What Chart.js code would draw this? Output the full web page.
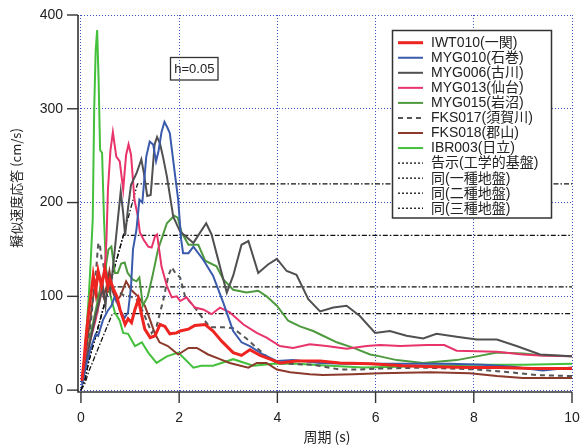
<!DOCTYPE html>
<html><head><meta charset="utf-8">
<script src="https://cdn.jsdelivr.net/npm/chart.js@4"></script>
<style>html,body{margin:0;padding:0;background:#fff}#wrap{width:580px;height:445px}</style>
</head><body><div id="wrap"><canvas id="c" width="580" height="445"></canvas></div>
<script>
// ---- tick labels ----
const xTicks = [0, 2, 4, 6, 8, 10];
const yTicks = [0, 100, 200, 300, 400];

// ---- series (period s, pseudo velocity cm/s) ----
const IWT010_T = [0.02,0.06,0.1,0.15,0.2,0.25,0.3,0.35,0.42,0.49,0.55,0.59,0.66,0.73,0.8,0.9,0.96,1.03,1.1,1.17,1.24,1.3,1.41,1.51,1.61,1.71,1.81,1.95,2.02,2.19,2.32,2.53,2.69,2.87,3.1,3.27,3.44,3.65,3.85,4.05,4.39,4.87,5.27,5.89,6.56,7.2,7.92,8.5,9.2,10];
const IWT010_V = [10,30,55,80,100,122,105,127,111,129,110,118,108,100,85,70,76,72,86,97,79,65,56,58,70,68,60,61,63,65,69,70,63,52,40,37,43,37,33,29,31,31,29,28,26,25,24,24,23,23];

const MYG010_T = [0.02,0.1,0.2,0.3,0.35,0.45,0.55,0.62,0.69,0.79,0.89,0.96,1.02,1.06,1.13,1.19,1.25,1.33,1.4,1.47,1.53,1.58,1.64,1.7,1.76,1.81,1.91,1.98,2.04,2.08,2.19,2.29,2.49,2.69,2.9,3.1,3.27,3.44,3.71,3.99,4.32,4.87,5.41,6.09,6.8,7.5,8.2,8.8,9.4,10];
const MYG010_V = [5,25,45,60,58,75,85,90,100,86,77,83,111,150,171,203,200,249,265,262,244,255,275,286,280,274,232,203,161,146,146,153,139,122,93,63,51,47,38,31,32,29,28,28,28,28,27,25,21,24];

const MYG006_T = [0.02,0.1,0.2,0.3,0.4,0.45,0.5,0.55,0.6,0.65,0.69,0.73,0.81,0.86,0.9,0.96,1.02,1.13,1.23,1.28,1.35,1.42,1.5,1.55,1.61,1.67,1.75,1.88,2.02,2.29,2.55,2.66,2.97,3.1,3.27,3.41,3.61,3.81,3.99,4.19,4.39,4.63,4.87,5.14,5.41,5.68,5.99,6.29,6.63,6.97,7.24,7.65,8.06,8.47,8.87,9.35,10];
const MYG006_V = [8,30,55,80,100,110,90,120,105,130,150,171,212,189,165,195,219,231,246,232,207,208,262,270,263,249,228,185,169,157,178,166,104,122,155,159,125,134,140,127,123,97,84,88,90,79,61,63,58,55,60,57,54,54,47,38,36];

const MYG013_T = [0.02,0.1,0.2,0.3,0.4,0.45,0.5,0.52,0.55,0.6,0.65,0.72,0.79,0.86,0.92,0.97,1.02,1.09,1.16,1.2,1.28,1.37,1.44,1.51,1.55,1.64,1.75,1.85,1.95,2.02,2.15,2.32,2.49,2.66,2.83,3.03,3.31,3.58,3.78,4.05,4.32,4.66,5.0,5.41,5.82,6.09,6.5,7.04,7.4,7.65,8.47,9.0,9.35,10];
const MYG013_V = [10,35,55,75,100,120,140,161,214,255,275,249,244,214,251,262,251,203,185,168,160,153,152,164,166,132,111,99,100,95,99,88,86,81,88,83,70,61,56,47,45,49,47,44,47,48,47,48,48,42,41,38,37,36];

const MYG015_T = [0.02,0.1,0.2,0.3,0.4,0.5,0.56,0.62,0.69,0.75,0.82,0.89,0.95,1.05,1.13,1.19,1.26,1.36,1.45,1.57,1.66,1.75,1.9,1.97,2.05,2.19,2.39,2.53,2.76,2.9,3.1,3.37,3.61,3.78,3.99,4.22,4.46,4.73,4.93,5.21,5.55,5.89,6.09,6.43,6.97,7.65,8.06,8.47,9.0,9.42,10];
const MYG015_V = [8,30,60,85,110,130,150,153,125,125,135,136,125,118,116,120,90,100,120,150,164,178,186,184,168,155,155,138,132,118,107,104,106,100,90,74,68,63,58,51,45,38,36,32,29,32,36,40,39,37,36];

const FKS017_T = [0.02,0.1,0.2,0.25,0.31,0.35,0.38,0.42,0.45,0.5,0.55,0.62,0.7,0.79,0.9,1.0,1.13,1.25,1.34,1.44,1.54,1.68,1.78,1.85,1.92,2.02,2.12,2.29,2.49,2.63,2.9,3.1,3.37,3.58,3.78,3.99,4.26,4.73,5.27,5.68,6.09,7.0,8.06,8.74,9.28,10];
const FKS017_V = [8,35,70,100,129,155,157,140,136,120,110,111,100,104,100,100,97,85,74,61,68,97,122,131,125,120,100,90,76,67,67,66,55,45,36,29,28,27,22,22,23,24,22,19,16,15];

const FKS018_T = [0.02,0.1,0.15,0.2,0.25,0.3,0.35,0.41,0.46,0.52,0.58,0.65,0.72,0.8,0.92,1.02,1.16,1.3,1.4,1.5,1.6,1.77,1.98,2.1,2.19,2.36,2.59,2.83,3.03,3.41,3.58,3.78,3.99,4.26,4.66,4.93,5.55,6.09,7.11,7.92,8.47,9.0,10];
const FKS018_V = [8,40,60,80,100,112,90,116,100,110,127,105,95,100,116,107,100,90,76,61,51,47,38,42,45,45,38,33,29,24,29,29,22,19,17,16,17,18,19,18,15,13,13];

const IBR003_T = [0.02,0.08,0.12,0.16,0.2,0.24,0.27,0.3,0.33,0.36,0.39,0.43,0.47,0.52,0.62,0.69,0.79,0.86,0.96,1.1,1.24,1.37,1.54,1.75,1.98,2.12,2.29,2.45,2.69,3.1,3.51,3.92,4.39,5.07,5.75,6.5,7.0,8.0,9.0,10];
const IBR003_V = [8,40,70,100,139,182,300,362,384,330,256,253,182,118,97,83,74,61,60,47,51,40,29,36,40,33,24,26,26,33,26,28,28,26,24,25,26,27,27,28];

// code spectra (告示)
const KOKUJI_T = [0, 0.08, 0.16, 0.64, 10];
const KOKUJI_V = [0, 7, 20, 81.5, 81.5];
const TYPE1_T = [0, 0.08, 0.16, 0.576, 10];
const TYPE1_V = [0, 11, 31, 110, 110];
const TYPE2_T = [0, 0.08, 0.16, 0.864, 10];
const TYPE2_V = [0, 11, 31, 165, 165];
const TYPE3_T = [0, 0.08, 0.16, 1.152, 10];
const TYPE3_V = [0, 11, 31, 220, 220];

const seriesLabels = ['IWT010(一関)','MYG010(石巻)','MYG006(古川)','MYG013(仙台)','MYG015(岩沼)','FKS017(須賀川)','FKS018(郡山)','IBR003(日立)','告示(工学的基盤)','同(一種地盤)','同(二種地盤)','同(三種地盤)'];

function pts(T, V) { return T.map((t, i) => ({ x: t, y: V[i] })); }
const DASHDOT = [5, 2, 1.5, 2];
function ds(label, T, V, color, width, dash, legendDash) {
  return { label, data: pts(T, V), borderColor: color, backgroundColor: color, borderWidth: width,
    borderDash: dash || [], legendDash: legendDash || dash || [], pointRadius: 0, tension: 0, fill: false };
}
const datasets = [
  ds(seriesLabels[0], IWT010_T, IWT010_V, '#ee2420', 3),
  ds(seriesLabels[1], MYG010_T, MYG010_V, '#3a5aac', 2),
  ds(seriesLabels[2], MYG006_T, MYG006_V, '#505050', 2),
  ds(seriesLabels[3], MYG013_T, MYG013_V, '#e8336b', 2),
  ds(seriesLabels[4], MYG015_T, MYG015_V, '#4e9a3e', 2),
  ds(seriesLabels[5], FKS017_T, FKS017_V, '#555555', 2, [5, 4]),
  ds(seriesLabels[6], FKS018_T, FKS018_V, '#8b3a2c', 2),
  ds(seriesLabels[7], IBR003_T, IBR003_V, '#44c03c', 2),
  ds(seriesLabels[8], KOKUJI_T, KOKUJI_V, '#111111', 1.3, DASHDOT, [2, 2]),
  ds(seriesLabels[9], TYPE1_T, TYPE1_V, '#111111', 1.3, DASHDOT, [2, 2]),
  ds(seriesLabels[10], TYPE2_T, TYPE2_V, '#111111', 1.3, DASHDOT, [2, 2]),
  ds(seriesLabels[11], TYPE3_T, TYPE3_V, '#111111', 1.3, DASHDOT, [2, 2])
];

const GRID = '#3b4fc6';
const TICKFONT = { family: '"Liberation Sans", Arial, sans-serif', size: 14 };

const decor = {
  id: 'decor',
  beforeDatasetsDraw(chart) {
    const { ctx, chartArea: a, scales } = chart;
    ctx.save();
    ctx.strokeStyle = '#333'; ctx.lineWidth = 1.6; ctx.setLineDash([]);
    ctx.beginPath();
    ctx.moveTo(a.left, a.top); ctx.lineTo(a.left, a.bottom); ctx.lineTo(a.right, a.bottom);
    ctx.stroke();
    ctx.lineWidth = 1.4;
    yTicks.forEach(v => { const y = scales.y.getPixelForValue(v); ctx.beginPath(); ctx.moveTo(a.left - 11, y); ctx.lineTo(a.left, y); ctx.stroke(); });
    xTicks.forEach(v => { const x = scales.x.getPixelForValue(v); ctx.beginPath(); ctx.moveTo(x, a.bottom); ctx.lineTo(x, a.bottom + 11); ctx.stroke(); });
    ctx.restore();
  },
  afterDatasetsDraw(chart) {
    const { ctx } = chart;
    ctx.save();
    // h=0.05 box
    ctx.setLineDash([]);
    ctx.strokeStyle = '#333'; ctx.lineWidth = 1.3;
    ctx.strokeRect(170.5, 57.5, 47.5, 22.5);
    ctx.fillStyle = '#222'; ctx.font = '13px "Liberation Sans", Arial, sans-serif';
    ctx.textAlign = 'center'; ctx.textBaseline = 'middle';
    ctx.fillText('h=0.05', 194.3, 69);
    // legend
    ctx.fillStyle = '#fff'; ctx.fillRect(392.5, 30.5, 159, 187.5);
    ctx.strokeStyle = '#333'; ctx.lineWidth = 1.5; ctx.strokeRect(392.5, 30.5, 159, 187.5);
    ctx.textAlign = 'left';
    ctx.font = '14px "Liberation Sans", "Noto Sans CJK JP", sans-serif';
    chart.data.datasets.forEach((d, i) => {
      const y = 42.7 + 15.05 * i;
      ctx.strokeStyle = d.borderColor; ctx.lineWidth = d.borderWidth > 2 ? 3 : (d.borderWidth < 1.5 ? 1.3 : 2);
      ctx.setLineDash(d.legendDash || []);
      ctx.beginPath(); ctx.moveTo(398, y); ctx.lineTo(423, y); ctx.stroke();
      ctx.fillStyle = '#222';
      ctx.fillText(d.label, 431, y + 0.5);
    });
    ctx.setLineDash([]);
    // axis titles
    ctx.fillStyle = '#222';
    ctx.font = '13px "Noto Sans CJK JP", sans-serif';
    ctx.save(); ctx.translate(16, 188); ctx.rotate(-Math.PI / 2);
    ctx.textAlign = 'center'; ctx.textBaseline = 'middle';
    ctx.fillText('擬似速度応答 (cm/s)', 0, 0);
    ctx.restore();
    ctx.font = '14px "Noto Sans CJK JP", sans-serif';
    ctx.textAlign = 'center'; ctx.textBaseline = 'middle';
    ctx.fillText('周期 (s)', 327, 437);
    ctx.restore();
  }
};

function noPad(s) { s.paddingTop = 0; s.paddingBottom = 0; s.paddingLeft = 0; s.paddingRight = 0; }

new Chart(document.getElementById('c'), {
  type: 'line',
  data: { datasets },
  plugins: [decor],
  options: {
    responsive: false, animation: false, devicePixelRatio: 1,
    layout: { padding: { left: 0, right: 8, top: 15, bottom: 0 } },
    plugins: { legend: { display: false }, tooltip: { enabled: false }, title: { display: false } },
    scales: {
      x: {
        type: 'linear', min: -0.06, max: 10,
        afterBuildTicks: s => { s.ticks = xTicks.map(v => ({ value: v })); },
        afterFit: s => { s.height = 53; noPad(s); },
        grid: { color: GRID, lineWidth: 1, drawTicks: false, borderDash: [1, 2] },
        border: { display: false, dash: [1, 2] },
        ticks: { font: TICKFONT, color: '#222', padding: 18, maxRotation: 0, callback: v => String(v) }
      },
      y: {
        type: 'linear', min: -2, max: 400,
        afterBuildTicks: s => { s.ticks = yTicks.map(v => ({ value: v })); },
        afterFit: s => { s.width = 78; noPad(s); },
        grid: { color: GRID, lineWidth: 1, drawTicks: false, borderDash: [1, 2] },
        border: { display: false, dash: [1, 2] },
        ticks: { font: TICKFONT, color: '#222', padding: 15, callback: v => String(v) }
      }
    }
  }
});
</script></body></html>
